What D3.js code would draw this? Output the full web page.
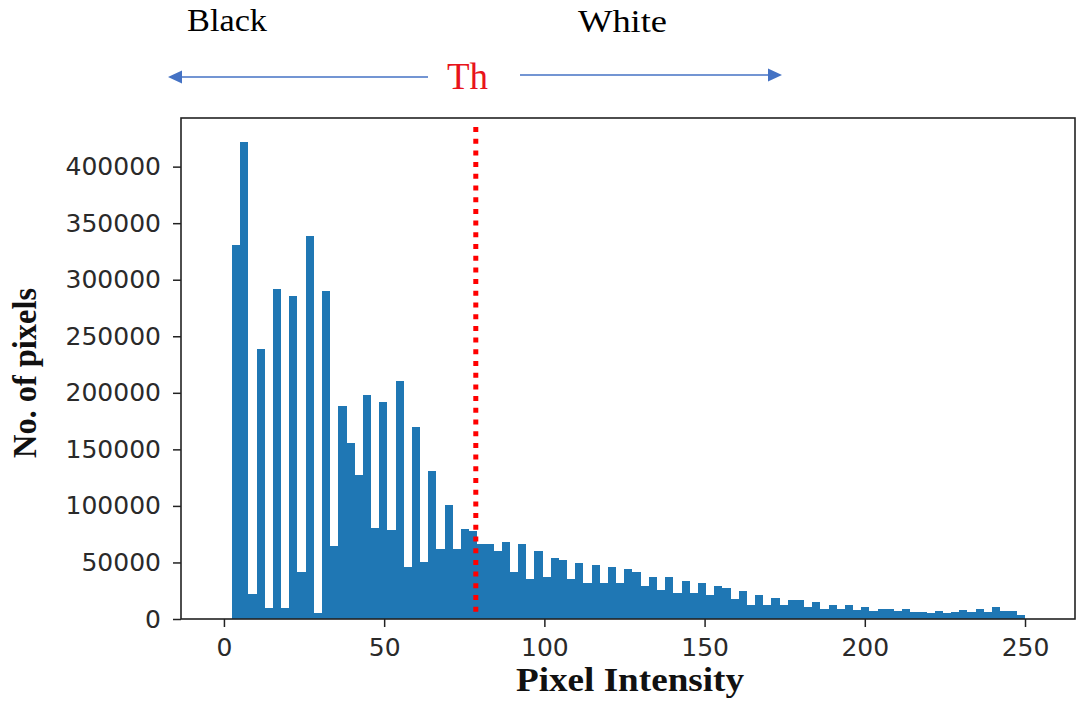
<!DOCTYPE html>
<html>
<head>
<meta charset="utf-8">
<script src="https://cdn.jsdelivr.net/npm/d3@7"></script>
<style>
  html, body { margin: 0; padding: 0; background: #ffffff; }
  svg { display: block; }
</style>
</head>
<body>
<svg id="chart" width="1080" height="702"></svg>
<script>
// Histogram of grey-level intensities: equal-width bins over 0–255
const binWidth = 2.55;
const firstBinIndex = 1;
const pixelCounts = [
  330500, 422000, 21700, 239100, 9300, 291600, 9300, 285700, 41700, 338800,
  5500, 289800, 64400, 188000, 155500, 127000, 197800, 80100, 191900, 78300,
  210200, 45900, 169800, 50300, 130800, 62100, 100700, 62100, 80000, 77700,
  66000, 66000, 60000, 68000, 41700, 65900, 35500, 59700, 37300, 53500,
  51800, 35500, 49700, 32000, 47600, 32000, 45900, 32000, 43800, 41700,
  29600, 37300, 25500, 37300, 23200, 33500, 23200, 31400, 20800, 29000,
  27000, 17300, 25200, 12800, 21100, 12800, 18700, 12800, 16700, 16700,
  10800, 14900, 9000, 12800, 9000, 12500, 8000, 11000, 7500, 9000,
  9000, 7000, 9000, 6500, 6500, 5500, 7500, 5500, 6000, 8000,
  6000, 8500, 6000, 10500, 7000, 7000, 3500
];
const xTickValues = [0, 50, 100, 150, 200, 250];
const yTickValues = [0, 50000, 100000, 150000, 200000, 250000, 300000, 350000, 400000];
const thresholdValue = 78.6;
const leftLabel = "Black";
const rightLabel = "White";
const thresholdLabel = "Th";
const xAxisTitle = "Pixel Intensity";
const yAxisTitle = "No. of pixels";

const svg = d3.select("#chart");
const plot = { left: 181, right: 1075, top: 118, bottom: 619 };

const x = d3.scaleLinear().domain([-13.4, 265.6]).range([plot.left, plot.right]);
const y = d3.scaleLinear().domain([0, 443000]).range([plot.bottom, plot.top]);

const bins = pixelCounts.map((count, i) => {
  const x0 = (firstBinIndex + i) * binWidth;
  return { x0, x1: x0 + binWidth, count };
});

// bars
svg.append("g")
  .selectAll("rect")
  .data(bins)
  .join("rect")
  .attr("x", d => x(d.x0))
  .attr("width", d => x(d.x1) - x(d.x0))
  .attr("y", d => y(d.count))
  .attr("height", d => y(0) - y(d.count))
  .attr("fill", "#1f77b4")
  .attr("shape-rendering", "crispEdges");

// threshold marker
svg.append("line")
  .attr("x1", x(thresholdValue)).attr("x2", x(thresholdValue))
  .attr("y1", 127).attr("y2", 616)
  .attr("stroke", "#ff0000")
  .attr("stroke-width", 5)
  .attr("stroke-dasharray", "5,6.7");

// axes
const tickFont = "'DejaVu Sans', sans-serif";
const yAxis = svg.append("g")
  .attr("transform", `translate(${plot.left},0)`)
  .call(d3.axisLeft(y).tickValues(yTickValues).tickFormat(d3.format("d"))
    .tickSize(8).tickSizeOuter(0).tickPadding(12));
const xAxis = svg.append("g")
  .attr("transform", `translate(0,${plot.bottom})`)
  .call(d3.axisBottom(x).tickValues(xTickValues).tickFormat(d3.format("d"))
    .tickSize(8).tickSizeOuter(0).tickPadding(11));

[yAxis, xAxis].forEach(g => {
  g.select(".domain").remove();
  g.selectAll(".tick line").attr("stroke", "#222").attr("stroke-width", 1.5);
  g.selectAll(".tick text")
    .attr("fill", "#2a2a2a")
    .style("font-family", tickFont)
    .style("font-size", "25px");
});

// frame
svg.append("rect")
  .attr("x", plot.left).attr("y", plot.top)
  .attr("width", plot.right - plot.left).attr("height", plot.bottom - plot.top)
  .attr("fill", "none").attr("stroke", "#222").attr("stroke-width", 1.6);

// axis titles
const serif = "'Liberation Serif', 'Times New Roman', serif";
svg.append("text")
  .attr("x", 630).attr("y", 691)
  .attr("text-anchor", "middle")
  .attr("textLength", 228).attr("lengthAdjust", "spacingAndGlyphs")
  .style("font-family", serif).style("font-weight", "bold").style("font-size", "34px")
  .attr("fill", "#111")
  .text(xAxisTitle);

svg.append("text")
  .attr("transform", "translate(36,373) rotate(-90)")
  .attr("text-anchor", "middle")
  .attr("textLength", 170).attr("lengthAdjust", "spacingAndGlyphs")
  .style("font-family", serif).style("font-weight", "bold").style("font-size", "34px")
  .attr("fill", "#111")
  .text(yAxisTitle);

// dark / light side annotation
svg.append("text")
  .attr("x", 187).attr("y", 31)
  .attr("textLength", 80).attr("lengthAdjust", "spacingAndGlyphs")
  .style("font-family", serif).style("font-size", "32px").attr("fill", "#000")
  .text(leftLabel);
svg.append("text")
  .attr("x", 578).attr("y", 32)
  .attr("textLength", 89).attr("lengthAdjust", "spacingAndGlyphs")
  .style("font-family", serif).style("font-size", "32px").attr("fill", "#000")
  .text(rightLabel);
svg.append("text")
  .attr("x", 447).attr("y", 89)
  .style("font-family", serif).style("font-size", "37px").attr("fill", "#e8141b")
  .text(thresholdLabel);

// arrows
const arrowLine = "#7395d3", arrowHead = "#4472c4";
svg.append("line").attr("x1", 428).attr("x2", 180).attr("y1", 77).attr("y2", 77)
  .attr("stroke", arrowLine).attr("stroke-width", 2.2);
svg.append("path").attr("d", "M168,77 L182,70.5 L182,83.5 Z").attr("fill", arrowHead);
svg.append("line").attr("x1", 520).attr("x2", 770).attr("y1", 75).attr("y2", 75)
  .attr("stroke", arrowLine).attr("stroke-width", 2.2);
svg.append("path").attr("d", "M782,75 L768,68.5 L768,81.5 Z").attr("fill", arrowHead);
</script>
</body>
</html>
